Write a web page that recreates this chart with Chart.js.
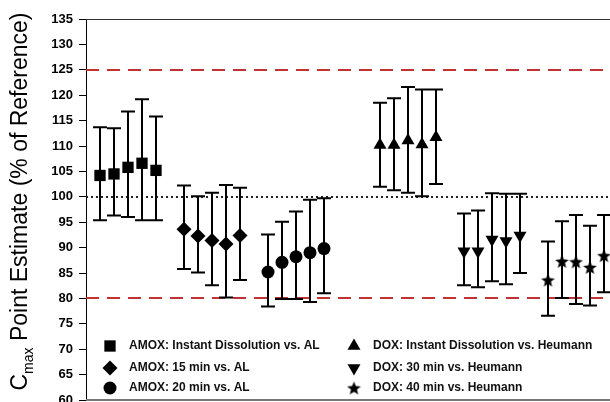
<!DOCTYPE html>
<html>
<head>
<meta charset="utf-8">
<script src="https://cdn.jsdelivr.net/npm/chart.js@4.4.1/dist/chart.umd.min.js"></script>
<style>
  html, body { margin: 0; padding: 0; overflow: hidden; background: #fff; }
  #wrap { position: absolute; left: 0; top: 0; width: 650px; height: 430px; }
</style>
</head>
<body>
<div id="wrap"><canvas id="chart" width="650" height="430"></canvas></div>
<script>
// x positions of each study inside its group
const posAmoxInstant = [1, 2, 3, 4, 5];
const posAmox15 = [7, 8, 9, 10, 11];
const posAmox20 = [13, 14, 15, 16, 17];
const posDoxInstant = [21, 22, 23, 24, 25];
const posDox30 = [27, 28, 29, 30, 31];
const posDox40 = [33, 34, 35, 36, 37];

// point estimates and 90% CI (% of reference)
const amoxInstant = [104.2, 104.5, 105.8, 106.6, 105.2];
const amoxInstantLo = [95.4, 96.3, 96.0, 95.4, 95.4];
const amoxInstantHi = [113.7, 113.5, 116.8, 119.2, 115.8];

const amox15 = [93.6, 92.3, 91.4, 90.7, 92.4];
const amox15Lo = [85.8, 85.1, 82.6, 80.2, 83.6];
const amox15Hi = [102.2, 100.1, 100.8, 102.3, 101.8];

const amox20 = [85.2, 87.1, 88.2, 89.0, 89.8];
const amox20Lo = [78.4, 79.9, 79.9, 79.3, 81.0];
const amox20Hi = [92.6, 95.1, 97.1, 99.4, 99.7];

const doxInstant = [110.2, 110.2, 111.1, 110.3, 111.7];
const doxInstantLo = [102.0, 101.3, 100.8, 100.1, 102.5];
const doxInstantHi = [118.5, 119.4, 121.6, 121.1, 121.1];

const dox30 = [89.3, 89.3, 91.6, 91.3, 92.4];
const dox30Lo = [82.6, 82.2, 83.4, 82.8, 85.0];
const dox30Hi = [96.7, 97.3, 100.7, 100.6, 100.6];

const dox40 = [83.6, 87.3, 87.2, 86.1, 88.4];
const dox40Lo = [76.6, 80.1, 78.9, 78.6, 81.2];
const dox40Hi = [91.2, 95.2, 96.4, 94.3, 96.4];

// acceptance limits and reference
const limitLines = [80, 125];
const refLine = 100;

const yMin = 60, yMax = 135, yStep = 5;

const FONT = '"Liberation Sans", Arial, sans-serif';

// filled five point star for the DOX 40 min series
function makeStar(outer, inner) {
  const c = document.createElement('canvas');
  const s = Math.ceil(outer * 2 + 2);
  c.width = s; c.height = s;
  const g = c.getContext('2d');
  g.fillStyle = '#000';
  g.beginPath();
  for (let i = 0; i < 10; i++) {
    const r = i % 2 === 0 ? outer : inner;
    const a = -Math.PI / 2 + i * Math.PI / 5;
    const px = s / 2 + r * Math.cos(a), py = s / 2 + 0.6 + r * Math.sin(a);
    if (i === 0) g.moveTo(px, py); else g.lineTo(px, py);
  }
  g.closePath();
  g.fill();
  return c;
}
const starImg = makeStar(7.2, 3.1);

const pts = (xs, ys) => xs.map((x, i) => ({ x: x, y: ys[i] }));

function series(label, xs, ys, lo, hi, style, radius, rotation) {
  return {
    label: label,
    data: pts(xs, ys),
    lo: lo,
    hi: hi,
    pointStyle: style,
    pointRadius: radius,
    pointRotation: rotation || 0,
    backgroundColor: '#000',
    borderColor: '#000',
    borderWidth: 0
  };
}

const datasets = [
  series('AMOX: Instant Dissolution vs. AL', posAmoxInstant, amoxInstant, amoxInstantLo, amoxInstantHi, 'rect', 8),
  series('AMOX: 15 min vs. AL', posAmox15, amox15, amox15Lo, amox15Hi, 'rectRot', 7.5),
  series('AMOX: 20 min vs. AL', posAmox20, amox20, amox20Lo, amox20Hi, 'circle', 6.5),
  series('DOX: Instant Dissolution vs. Heumann', posDoxInstant, doxInstant, doxInstantLo, doxInstantHi, 'triangle', 7.5),
  series('DOX: 30 min vs. Heumann', posDox30, dox30, dox30Lo, dox30Hi, 'triangle', 7.5, 180),
  series('DOX: 40 min vs. Heumann', posDox40, dox40, dox40Lo, dox40Hi, starImg, 7)
];

// dashed limits + dotted 100 line
const refLines = {
  id: 'refLines',
  beforeDatasetsDraw(chart) {
    const { ctx, chartArea: a, scales: { y } } = chart;
    ctx.save();
    ctx.beginPath();
    ctx.rect(a.left, a.top, a.right - a.left, a.bottom - a.top);
    ctx.clip();
    ctx.strokeStyle = 'rgb(192, 50, 50)';
    ctx.lineWidth = 2;
    ctx.setLineDash([13, 8]);
    limitLines.forEach(v => {
      const py = Math.round(y.getPixelForValue(v));
      ctx.beginPath();
      ctx.moveTo(a.left, py);
      ctx.lineTo(a.right, py);
      ctx.stroke();
    });
    ctx.strokeStyle = '#222';
    ctx.setLineDash([2, 3]);
    const py = Math.round(y.getPixelForValue(refLine));
    ctx.beginPath();
    ctx.moveTo(a.left, py);
    ctx.lineTo(a.right, py);
    ctx.stroke();
    ctx.restore();
  }
};

const errorBars = {
  id: 'errorBars',
  beforeDatasetsDraw(chart) {
    const { ctx, scales: { y } } = chart;
    ctx.save();
    ctx.strokeStyle = '#000';
    ctx.lineWidth = 2;
    chart.data.datasets.forEach((ds, di) => {
      chart.getDatasetMeta(di).data.forEach((pt, i) => {
        const top = y.getPixelForValue(ds.hi[i]);
        const bot = y.getPixelForValue(ds.lo[i]);
        ctx.beginPath();
        ctx.moveTo(pt.x, top); ctx.lineTo(pt.x, bot);
        ctx.moveTo(pt.x - 7, top); ctx.lineTo(pt.x + 7, top);
        ctx.moveTo(pt.x - 7, bot); ctx.lineTo(pt.x + 7, bot);
        ctx.stroke();
      });
    });
    ctx.restore();
  }
};

// box round the plot, y title with subscript, legend inside the plot
const extras = {
  id: 'extras',
  afterDraw(chart) {
    const { ctx, chartArea: a } = chart;
    ctx.save();
    ctx.strokeStyle = '#333';
    ctx.lineWidth = 1;
    ctx.beginPath();
    ctx.moveTo(a.left, a.top + 0.5); ctx.lineTo(a.right, a.top + 0.5);
    ctx.stroke();
    ctx.strokeStyle = '#777';
    ctx.lineWidth = 2;
    ctx.beginPath();
    ctx.moveTo(a.left, a.bottom); ctx.lineTo(a.right, a.bottom);
    ctx.stroke();

    // y title
    ctx.fillStyle = '#000';
    ctx.translate(21, (a.top + a.bottom) / 2 - 8);
    ctx.rotate(-Math.PI / 2);
    ctx.textBaseline = 'middle';
    ctx.textAlign = 'left';
    const big = '23px ' + FONT, small = '14px ' + FONT;
    const rest = ' Point Estimate (% of Reference)';
    ctx.font = big; const wC = ctx.measureText('C').width; const wR = ctx.measureText(rest).width;
    ctx.font = small; const wM = ctx.measureText('max').width;
    let tx = -(wC + wM + wR) / 2;
    ctx.font = big; ctx.fillText('C', tx, 0); tx += wC;
    ctx.font = small; ctx.fillText('max', tx, 8); tx += wM;
    ctx.font = big; ctx.fillText(rest, tx, 0);
    ctx.restore();

    // legend
    ctx.save();
    ctx.font = 'bold 12px ' + FONT;
    ctx.textBaseline = 'middle';
    const rows = [a.bottom - 54, a.bottom - 32, a.bottom - 12];
    const cols = [a.left + 24, a.left + 268];
    chart.data.datasets.forEach((ds, i) => {
      const mx = cols[Math.floor(i / 3)], my = rows[i % 3];
      ctx.fillStyle = '#000';
      Chart.helpers.drawPoint(ctx, {
        pointStyle: ds.pointStyle, radius: ds.pointRadius, rotation: ds.pointRotation, borderWidth: 0
      }, mx, my);
      ctx.fillStyle = '#111';
      ctx.fillText(ds.label, mx + 19, my);
    });
    ctx.restore();
  }
};

new Chart(document.getElementById('chart'), {
  type: 'scatter',
  data: { datasets: datasets },
  options: {
    responsive: false,
    animation: false,
    layout: { padding: { left: 36, top: 19, right: 18, bottom: 30 } },
    plugins: { legend: { display: false }, tooltip: { enabled: false } },
    scales: {
      x: { type: 'linear', min: 0, max: 39, display: false },
      y: {
        min: yMin,
        max: yMax,
        afterFit(scale) { scale.width = 50; },
        ticks: { stepSize: yStep, color: '#000', padding: 6, font: { family: FONT, size: 13, weight: 'bold' } },
        grid: { drawOnChartArea: false, tickLength: 7, color: '#000' },
        border: { color: '#000', width: 1 }
      }
    }
  },
  plugins: [refLines, errorBars, extras]
});
</script>
</body>
</html>
